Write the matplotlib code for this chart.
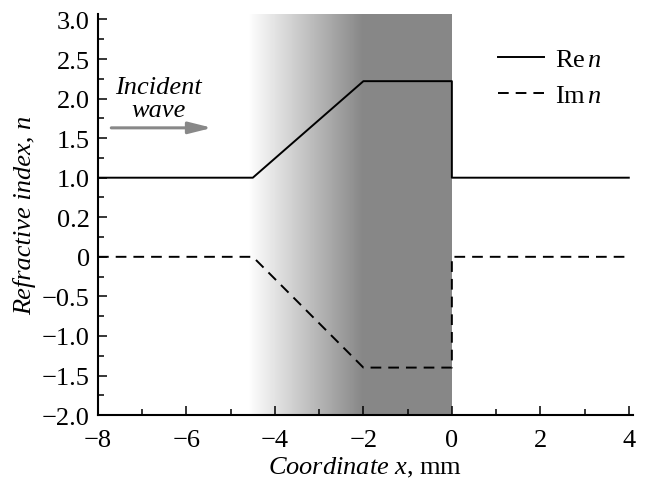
import numpy as np
import matplotlib
matplotlib.use("Agg")
import matplotlib.pyplot as plt
from matplotlib.ticker import MultipleLocator

plt.rcParams['font.family'] = 'Liberation Serif'
plt.rcParams['mathtext.fontset'] = 'custom'
plt.rcParams['mathtext.rm'] = 'Liberation Serif'
plt.rcParams['mathtext.it'] = 'Liberation Serif:italic'

# profile of the refractive index along x (mm)
x_re = [-8, -4.5, -2, 0, 0, 4]
re_n = [1.0, 1.0, 2.22, 2.22, 1.0, 1.0]
x_im = [-8, -4.5, -2, 0, 0, 4]
im_n = [0, 0, -1.4, -1.4, 0, 0]

# shaded layer: gradient part and uniform part
grad_start = -4.6
grad_end = -2.0
layer_end = 0.0

x_ticks = [-8, -6, -4, -2, 0, 2, 4]
x_ticklabels = ["\u22128", "\u22126", "\u22124", "\u22122", "0", "2", "4"]
y_ticks = [-2.0, -1.5, -1.0, -0.5, 0, 0.5, 1.0, 1.5, 2.0, 2.5, 3.0]
y_ticklabels = ["\u22122.0", "\u22121.5", "\u22121.0", "\u22120.5", "0", "0.2",
                "1.0", "1.5", "2.0", "2.5", "3.0"]

fs = 19

fig = plt.figure(figsize=(6.47, 4.81), dpi=100)
ax = fig.add_axes([0.1515, 0.135, 0.8265, 0.834])
ax.set_xlim(-8, 4.09)
ax.set_ylim(-2, 3.07)

gray = 0.53
grad = np.linspace(1.0, gray, 256).reshape(1, -1)
ax.imshow(grad, cmap='gray', vmin=0, vmax=1, aspect='auto',
          extent=[grad_start, grad_end, -2, 3.07], zorder=0)
ax.axvspan(grad_end, layer_end, color=str(gray), lw=0, zorder=0)

ax.plot(x_re, re_n, color='black', lw=1.4, label=r'Re$\,\mathit{n}$')
ax.plot(x_im, im_n, color='black', lw=1.4, linestyle=(0, (5.5, 3.6)),
        label=r'Im$\,\mathit{n}$')

ax.text(-6.64, 2.0, "Incident\nwave", style='italic', fontsize=fs,
        ha='center', va='center', linespacing=1.05)
ax.annotate('', xy=(-5.42, 1.63), xytext=(-7.7, 1.63),
            arrowprops=dict(arrowstyle='-|>,head_length=1.4,head_width=0.35',
                            color='#888888', lw=2.2, shrinkA=0, shrinkB=0))

ax.legend(loc='upper left', bbox_to_anchor=(0.748, 0.915), frameon=False,
          fontsize=fs, handlelength=1.75, handletextpad=0.4,
          labelspacing=0.45, borderpad=0, borderaxespad=0)

ax.set_xticks(x_ticks)
ax.set_xticklabels(x_ticklabels)
ax.set_yticks(y_ticks)
ax.set_yticklabels(y_ticklabels)
ax.xaxis.set_minor_locator(MultipleLocator(1))
ax.yaxis.set_minor_locator(MultipleLocator(0.25))
ax.tick_params(which='both', direction='in', labelsize=fs, width=1.1)
ax.tick_params(which='major', length=6.5)
ax.tick_params(which='minor', length=4)
ax.tick_params(axis='x', pad=10)
ax.tick_params(axis='y', pad=6)

for s in ['top', 'right']:
    ax.spines[s].set_visible(False)
for s in ['left', 'bottom']:
    ax.spines[s].set_linewidth(1.5)

ax.set_xlabel(r'$\mathit{Coordinate\ x}$, mm', fontsize=fs, labelpad=3)
ax.set_ylabel('Refractive index, n', style='italic', fontsize=fs, labelpad=4)

fig.savefig("out.png", dpi=100)
